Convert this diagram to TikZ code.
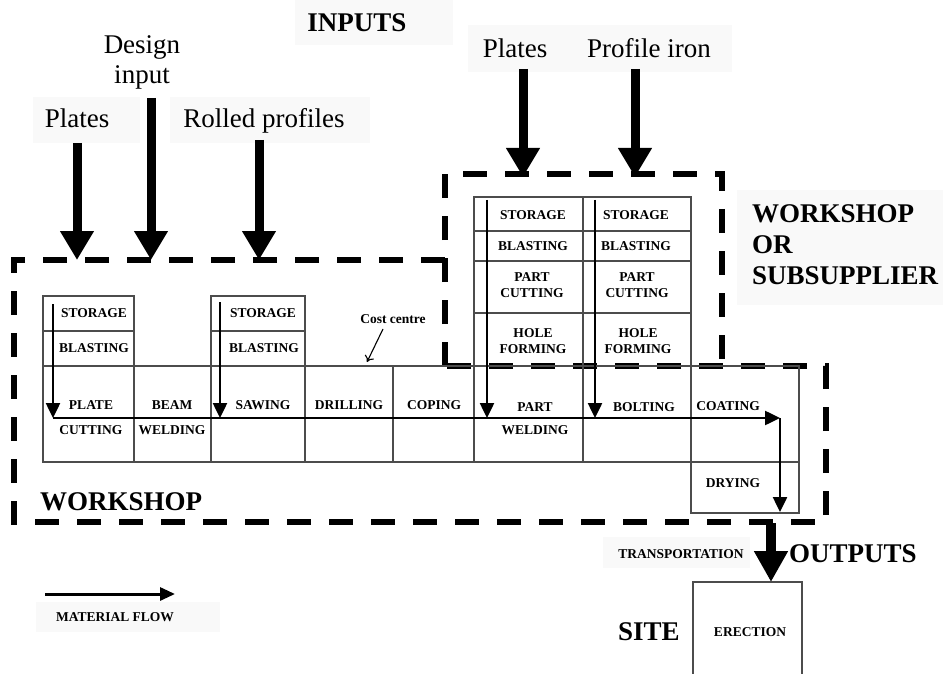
\documentclass[tikz,border=0pt]{standalone}
\usepackage{fontspec}
\setmainfont{Liberation Serif}
\usetikzlibrary{arrows.meta}
\tikzset{>={Stealth[scale=1.4]}}
\usepackage[svgnames]{xcolor}
\definecolor{labelbg}{gray}{0.978}
\tikzset{
  cellline/.style={draw=black!70, line width=1.1pt},
  celltext/.style={font=\fontsize{13.5}{15.5}\selectfont\bfseries, inner sep=0pt, align=center},
  bigtext/.style={font=\fontsize{27}{31}\selectfont\bfseries, inner sep=0pt},
  inputtext/.style={font=\fontsize{27}{30}\selectfont, inner sep=0pt, align=center},
  dashline/.style={line width=5.5pt, dash pattern=on 24pt off 18pt},
  thickflow/.style={line width=9pt, -{Triangle[width=32pt,length=29pt]}},
  flow/.style={line width=2.5pt, -{Triangle[width=14pt,length=15pt]}},
}

\begin{document}
\begin{tikzpicture}[x=1pt,y=-1pt]
  \useasboundingbox (0,0) rectangle (943,674);

  % 标签底色
  \fill[labelbg] (295,0) rectangle (453,45);
  \fill[labelbg] (33,97) rectangle (140,143);
  \fill[labelbg] (170,97) rectangle (370,143);
  \fill[labelbg] (468,25) rectangle (732,72);
  \fill[labelbg] (737,190) rectangle (943,305);
  \fill[labelbg] (603,537) rectangle (750,568);
  \fill[labelbg] (36,602) rectangle (220,632);

  % 坐标点定义
  \coordinate (W_1) at (445,260);
  \coordinate (W_2) at (14,260);
  \coordinate (W_3) at (14,522);
  \coordinate (W_4) at (826,522);
  \coordinate (W_5) at (826,366);
  \coordinate (W_6) at (445,366);
  \coordinate (S_1) at (445,174);
  \coordinate (S_2) at (722,174);
  \coordinate (S_3) at (722,366);

  % 工作区虚线框
  \draw[dashline] (W_1) -- (W_2) -- (W_3) -- (W_4) -- (W_5) -- (W_6);
  \draw[dashline] (W_6) -- (S_1) -- (S_2) -- (S_3);

  % 工序格子
  \draw[cellline] (43,366) rectangle (799,462);
  \foreach \x in {134,211,305,393,474,583,691}
    \draw[cellline] (\x,366) -- (\x,462);
  \draw[cellline] (43,296) rectangle (134,366);
  \draw[cellline] (43,331) -- (134,331);
  \draw[cellline] (211,296) rectangle (305,366);
  \draw[cellline] (211,331) -- (305,331);
  \draw[cellline] (474,197) rectangle (691,366);
  \draw[cellline] (583,197) -- (583,366);
  \foreach \y in {231,261,313}
    \draw[cellline] (474,\y) -- (691,\y);
  \draw[cellline] (691,462) rectangle (799,513);
  \draw[cellline] (693,674) -- (693,582) -- (802,582) -- (802,674);

  % 输入标签
  \node[bigtext, anchor=base] (INPUTS) at (357,32) {INPUTS};
  \node[inputtext, anchor=north] (Design) at (142,35) {Design\\input};
  \node[inputtext, anchor=base] (Plates_L) at (77,128) {Plates};
  \node[inputtext, anchor=base] (Rolled) at (264,128) {Rolled profiles};
  \node[inputtext, anchor=base] (Plates_R) at (515,58) {Plates};
  \node[inputtext, anchor=base] (Profile) at (649,58) {Profile iron};

  % 输入箭头
  \coordinate (P_L1) at (77,143);
  \coordinate (P_L2) at (77,260);
  \coordinate (D_1) at (151,98);
  \coordinate (D_2) at (151,260);
  \coordinate (R_1) at (259,140);
  \coordinate (R_2) at (259,260);
  \coordinate (P_R1) at (523,69);
  \coordinate (P_R2) at (523,177);
  \coordinate (I_1) at (635,69);
  \coordinate (I_2) at (635,177);
  \draw[thickflow] (P_L1) -- (P_L2);
  \draw[thickflow] (D_1) -- (D_2);
  \draw[thickflow] (R_1) -- (R_2);
  \draw[thickflow] (P_R1) -- (P_R2);
  \draw[thickflow] (I_1) -- (I_2);

  % 物流线
  \coordinate (F_0) at (53,418);
  \coordinate (F_1) at (780,418);
  \coordinate (F_2) at (780,512);
  \coordinate (A_1) at (53,304);
  \coordinate (A_2) at (53,418);
  \coordinate (B_1) at (220,302);
  \coordinate (B_2) at (220,418);
  \coordinate (C_1) at (487,200);
  \coordinate (C_2) at (487,418);
  \coordinate (E_1) at (595,200);
  \coordinate (E_2) at (595,418);
  \draw[flow] (A_1) -- (A_2);
  \draw[flow] (B_1) -- (B_2);
  \draw[flow] (C_1) -- (C_2);
  \draw[flow] (E_1) -- (E_2);
  \draw[flow] (F_0) -- (F_1);
  \draw[flow] (F_1) -- (F_2);

  % 运输箭头
  \coordinate (T_1) at (771,523);
  \coordinate (T_2) at (771,582);
  \draw[line width=9.5pt, -{Triangle[width=32pt,length=31pt]}] (T_1) -- (T_2);

  % 图例
  \coordinate (M_1) at (45,594);
  \coordinate (M_2) at (175,594);
  \draw[line width=3pt, -{Triangle[width=13pt,length=15pt]}] (M_1) -- (M_2);
  \node[celltext] (Material) at (115,617) {MATERIAL FLOW};

  % 成本中心
  \node[celltext] (Cost) at (393,319) {Cost centre};
  \coordinate (K_1) at (383,329);
  \coordinate (K_2) at (367,362);
  \draw[line width=1.1pt, -{To[length=6pt,width=10pt]}] (K_1) -- (K_2);

  % 格子文字
  \node[celltext] (Sto_1) at (94,313) {STORAGE};
  \node[celltext] (Bla_1) at (94,348) {BLASTING};
  \node[celltext] (Sto_2) at (263,313) {STORAGE};
  \node[celltext] (Bla_2) at (264,348) {BLASTING};
  \node[celltext] (Plate) at (91,405) {PLATE};
  \node[celltext] (Cut) at (91,430) {CUTTING};
  \node[celltext] (Beam) at (172,405) {BEAM};
  \node[celltext] (Weld_1) at (172,430) {WELDING};
  \node[celltext] (Saw) at (263,405) {SAWING};
  \node[celltext] (Drill) at (349,405) {DRILLING};
  \node[celltext] (Cope) at (434,405) {COPING};
  \node[celltext] (Part) at (535,407) {PART};
  \node[celltext] (Weld_2) at (535,430) {WELDING};
  \node[celltext] (Bolt) at (644,407) {BOLTING};
  \node[celltext] (Coat) at (728,406) {COATING};
  \node[celltext] (Dry) at (733,483) {DRYING};
  \node[celltext] (Sto_3) at (533,215) {STORAGE};
  \node[celltext] (Bla_3) at (533,246) {BLASTING};
  \node[celltext] (Pcut_3) at (532,285) {PART\\CUTTING};
  \node[celltext] (Hole_3) at (533,341) {HOLE\\FORMING};
  \node[celltext] (Sto_4) at (636,215) {STORAGE};
  \node[celltext] (Bla_4) at (636,246) {BLASTING};
  \node[celltext] (Pcut_4) at (637,285) {PART\\CUTTING};
  \node[celltext] (Hole_4) at (638,341) {HOLE\\FORMING};
  \node[celltext] (Erect) at (750,632) {ERECTION};

  % 区域标签
  \node[bigtext, anchor=north west, align=left] (Sub) at (752,204) {WORKSHOP\\OR\\SUBSUPPLIER};
  \node[bigtext, anchor=base west] (Work) at (40,510) {WORKSHOP};
  \node[bigtext, anchor=base west] (Out) at (789,562) {OUTPUTS};
  \node[bigtext, anchor=base west] (Site) at (618,640) {SITE};
  \node[celltext, anchor=base] (Trans) at (681,558) {TRANSPORTATION};
\end{tikzpicture}
\end{document}
